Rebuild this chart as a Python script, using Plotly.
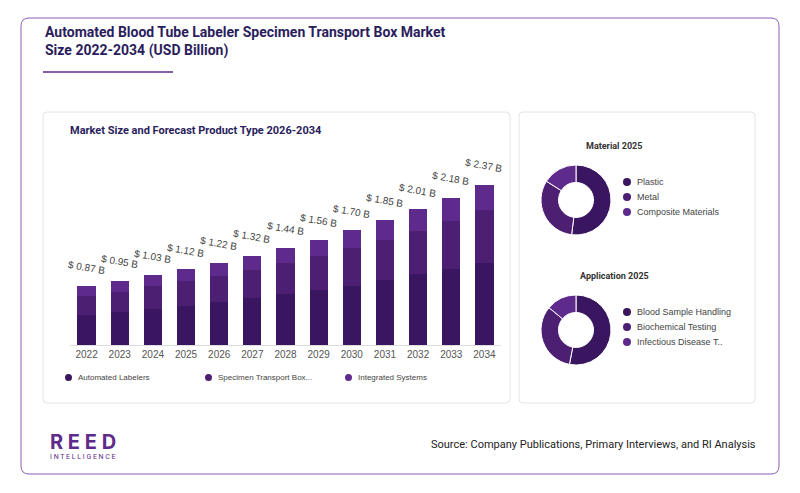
import plotly.graph_objects as go

years = [str(y) for y in range(2022, 2035)]
totals = [0.87, 0.95, 1.03, 1.12, 1.22, 1.32, 1.44, 1.56, 1.70, 1.85, 2.01, 2.18, 2.37]
automated = [0.45, 0.49, 0.54, 0.58, 0.63, 0.69, 0.75, 0.81, 0.88, 0.96, 1.05, 1.13, 1.22]
transport = [0.28, 0.30, 0.33, 0.36, 0.39, 0.42, 0.46, 0.50, 0.55, 0.59, 0.64, 0.70, 0.77]
integrated = [0.14, 0.16, 0.16, 0.18, 0.20, 0.21, 0.23, 0.25, 0.27, 0.30, 0.32, 0.35, 0.38]
series_names = ["Automated Labelers", "Specimen Transport Box...", "Integrated Systems"]
colors = ["#3a1560", "#4c1f72", "#5e2b8c"]

mat_labels = ["Plastic", "Metal", "Composite Materials"]
mat_values = [52, 32, 16]
app_labels = ["Blood Sample Handling", "Biochemical Testing", "Infectious Disease T.."]
app_values = [53, 33, 14]

W, H = 800, 493
def px(x): return x / W
def py(y): return 1 - y / H

fig = go.Figure()
for name, vals, c in zip(series_names, [automated, transport, integrated], colors):
    fig.add_bar(x=years, y=vals, name=name, marker=dict(color=c, line=dict(width=0)),
                showlegend=False, hoverinfo="skip")

fig.add_pie(labels=mat_labels, values=mat_values, hole=0.5, sort=False, direction="clockwise",
            rotation=0, marker=dict(colors=colors, line=dict(color="white", width=1)),
            textinfo="none", showlegend=False,
            domain=dict(x=[px(541), px(611)], y=[py(235), py(165)]))
fig.add_pie(labels=app_labels, values=app_values, hole=0.5, sort=False, direction="clockwise",
            rotation=0, marker=dict(colors=colors, line=dict(color="white", width=1)),
            textinfo="none", showlegend=False,
            domain=dict(x=[px(541), px(611)], y=[py(365), py(295)]))

def rrect(x0, y0, x1, y1, r):
    return (f"M {x0+r},{y0} L {x1-r},{y0} Q {x1},{y0} {x1},{y0+r} L {x1},{y1-r} Q {x1},{y1} {x1-r},{y1} "
            f"L {x0+r},{y1} Q {x0},{y1} {x0},{y1-r} L {x0},{y0+r} Q {x0},{y0} {x0+r},{y0} Z")

shapes = [
    dict(type="path", xref="paper", yref="paper", xsizemode="pixel", ysizemode="pixel",
         xanchor=0, yanchor=1, path=rrect(21, -18, 779, -474, 8).replace("-", "-") if False else None),
]
# use pixel-anchored path: y measured upward from anchor (top), so negative values go down
def prect(x0, y0, x1, y1, r, **kw):
    p = (f"M {x0+r},{-y0} L {x1-r},{-y0} Q {x1},{-y0} {x1},{-(y0+r)} L {x1},{-(y1-r)} Q {x1},{-y1} {x1-r},{-y1} "
         f"L {x0+r},{-y1} Q {x0},{-y1} {x0},{-(y1-r)} L {x0},{-(y0+r)} Q {x0},{-y0} {x0+r},{-y0} Z")
    d = dict(type="path", xref="paper", yref="paper", xsizemode="pixel", ysizemode="pixel",
             xanchor=0, yanchor=1, path=p)
    d.update(kw)
    return d

shapes = [
    prect(21, 18, 779, 474, 8, line=dict(color="#8a5fb0", width=1), fillcolor="rgba(0,0,0,0)", layer="below"),
    dict(type="line", xref="paper", yref="paper", x0=px(43), x1=px(173), y0=py(72), y1=py(72),
         line=dict(color="#5e2b8c", width=1.5)),
    prect(43, 112, 510, 403, 4, line=dict(color="#e4e4e8", width=1), fillcolor="white", layer="below"),
    prect(519, 112, 755, 403, 4, line=dict(color="#e4e4e8", width=1), fillcolor="white", layer="below"),
]
LBL = "Liberation Sans, Arial, sans-serif"
anns = [
    dict(x=px(43), y=py(22), xanchor="left", yanchor="top", align="left",
         text="<b>Automated Blood Tube Labeler Specimen Transport Box Market<br>Size 2022-2034 (USD Billion)</b>",
         font=dict(size=14, color="#2a1d5c")),
    dict(x=px(68), y=py(130), xanchor="left", yanchor="middle",
         text="<b>Market Size and Forecast Product Type 2026-2034</b>", font=dict(size=11, color="#2a1d5c")),
    dict(x=px(614), y=py(146), xanchor="center", yanchor="middle",
         text="<b>Material 2025</b>", font=dict(size=9, color="#333")),
    dict(x=px(614), y=py(276), xanchor="center", yanchor="middle",
         text="<b>Application 2025</b>", font=dict(size=9, color="#333")),
    dict(x=px(48), y=py(442), xanchor="left", yanchor="middle",
         text="<b>R E E D</b>", font=dict(size=20, color="#5e2b8c", family="Inter")),
    dict(x=px(48), y=py(457), xanchor="left", yanchor="middle",
         text="I N T E L L I G E N C E", font=dict(size=7, color="#5e2b8c")),
    dict(x=px(758), y=py(444), xanchor="right", yanchor="middle",
         text="Source: Company Publications, Primary Interviews, and RI Analysis",
         font=dict(size=11, color="#222")),
]
for i, t in enumerate(totals):
    anns.append(dict(x=i, y=t, xref="x", yref="y", yanchor="bottom", yshift=8, showarrow=False,
                     text=f"$ {t:.2f} B", textangle=10, font=dict(size=10, color="#444", family=LBL)))
for xl, name, c in zip([65, 205, 345], series_names, colors):
    shapes.append(dict(type="circle", xref="paper", yref="paper", x0=px(xl), x1=px(xl + 7),
                       y0=py(381), y1=py(374), fillcolor=c, line=dict(width=0)))
    anns.append(dict(x=px(xl + 11), y=py(377.5), xanchor="left", yanchor="middle", text=name,
                     font=dict(size=8, color="#444", family=LBL)))
for base, labels in [(182, mat_labels), (312, app_labels)]:
    for i, (lab, c) in enumerate(zip(labels, colors)):
        yc = base + i * 15
        shapes.append(dict(type="circle", xref="paper", yref="paper", x0=px(623), x1=px(631),
                           y0=py(yc + 4), y1=py(yc - 4), fillcolor=c, line=dict(width=0)))
        anns.append(dict(x=px(635), y=py(yc), xanchor="left", yanchor="middle", text=lab,
                         font=dict(size=9, color="#444", family=LBL)))
for a in anns:
    a.setdefault("showarrow", False)
    a.setdefault("xref", "paper")
    a.setdefault("yref", "paper")

fig.update_layout(
    width=W, height=H, margin=dict(l=0, r=0, t=0, b=0, autoexpand=False),
    paper_bgcolor="white", plot_bgcolor="rgba(0,0,0,0)",
    barmode="stack", bargap=0.45,
    font=dict(family="Roboto, Arial, sans-serif"),
    xaxis=dict(type="category", domain=[px(70), px(501)], range=[-0.5, 12.5], showgrid=False,
               showline=True, linecolor="#ddd", ticks="", tickfont=dict(size=10, color="#555", family=LBL),
               fixedrange=True, automargin=False),
    yaxis=dict(domain=[py(345), py(162.5)], range=[0, 2.7], visible=False, fixedrange=True),
    shapes=shapes, annotations=anns,
)
fig.write_html("out.html", config=dict(displayModeBar=False),
               post_script="document.body.style.margin='0';document.body.style.overflow='hidden';")
